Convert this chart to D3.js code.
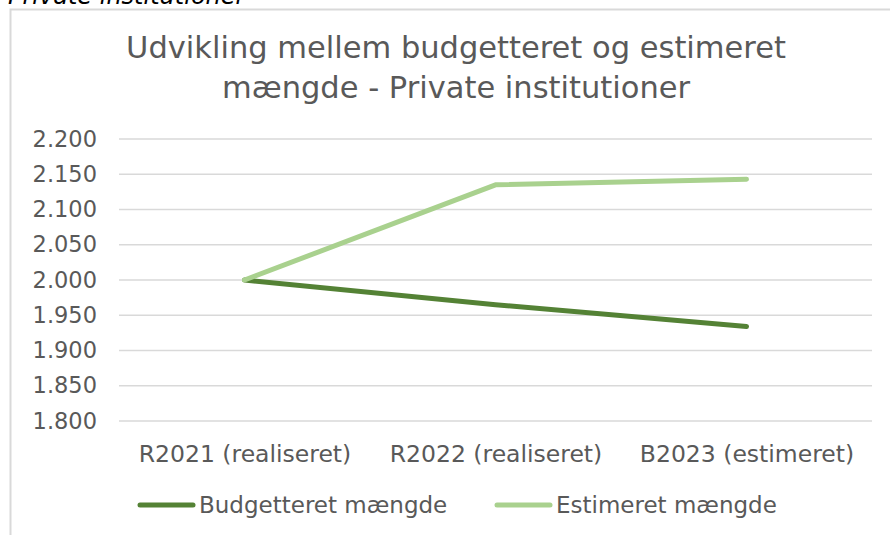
<!DOCTYPE html>
<html lang="da">
<head>
<meta charset="UTF-8">
<title>Udvikling mellem budgetteret og estimeret mængde</title>
<script src="https://d3js.org/d3.v7.min.js"></script>
<style>
  body { margin: 0; background: #fff; font-family: "DejaVu Sans", sans-serif; }
  svg text { fill: #595959; }
</style>
</head>
<body>
<div id="chart"></div>
<script>
// data
const categories = ["R2021 (realiseret)", "R2022 (realiseret)", "B2023 (estimeret)"];
const budgetteret = [2000, 1965, 1934];
const estimeret = [2000, 2135, 2143];
const yTicks = [1800, 1850, 1900, 1950, 2000, 2050, 2100, 2150, 2200];
const seriesNames = ["Budgetteret mængde", "Estimeret mængde"];
const colors = ["#548235", "#a9d18e"];

const W = 890, H = 535;
const plot = { left: 119, right: 872, top: 139, bottom: 421 };
const font = "'DejaVu Sans', sans-serif";

const svg = d3.select("#chart").append("svg")
  .attr("width", W).attr("height", H);

// afskåret overskrift over diagrammet
svg.append("text")
  .attr("x", 8).attr("y", 4)
  .style("font-style", "italic")
  .style("font-size", "24px")
  .style("fill", "#000")
  .text("Private institutioner");

// ramme
svg.append("rect")
  .attr("x", 10.5).attr("y", 9.5)
  .attr("width", W).attr("height", H)
  .attr("fill", "none")
  .attr("stroke", "#d9d9d9")
  .attr("stroke-width", 2);

// titel
const title = svg.append("text")
  .attr("text-anchor", "middle")
  .style("font-size", "30.5px");
title.append("tspan").attr("x", 456).attr("y", 58).text("Udvikling mellem budgetteret og estimeret");
title.append("tspan").attr("x", 456).attr("y", 98).text("mængde - Private institutioner");

const x = d3.scalePoint().domain(categories)
  .range([plot.left, plot.right]).padding(0.5);
const y = d3.scaleLinear().domain([1800, 2200])
  .range([plot.bottom, plot.top]);

// gitterlinjer
svg.append("g").selectAll("line").data(yTicks).join("line")
  .attr("x1", plot.left).attr("x2", plot.right)
  .attr("y1", d => y(d)).attr("y2", d => y(d))
  .attr("stroke", "#d9d9d9").attr("stroke-width", 1.5);

// y-akse
const fmt = d3.format(",.0f");
const yAxis = svg.append("g")
  .attr("transform", `translate(${plot.left - 22},0)`)
  .call(d3.axisLeft(y).tickValues(yTicks).tickSize(0).tickPadding(0)
    .tickFormat(d => fmt(d).replace(",", ".")));
yAxis.select(".domain").remove();
yAxis.selectAll("text")
  .style("font-size", "22.5px")
  .style("font-family", font)
  .attr("fill", "#595959");

// x-akse
const xAxis = svg.append("g")
  .attr("transform", `translate(0,${plot.bottom + 24})`)
  .call(d3.axisBottom(x).tickSize(0).tickPadding(0));
xAxis.select(".domain").remove();
xAxis.selectAll("text")
  .style("font-size", "23.5px")
  .style("font-family", font)
  .attr("fill", "#595959");

// linjer
const line = d3.line()
  .x((d, i) => x(categories[i]))
  .y(d => y(d));

[budgetteret, estimeret].forEach((vals, i) => {
  svg.append("path")
    .datum(vals)
    .attr("d", line)
    .attr("fill", "none")
    .attr("stroke", colors[i])
    .attr("stroke-width", 5)
    .attr("stroke-linecap", "round")
    .attr("stroke-linejoin", "round");
});

// forklaring
const legendX = [140, 497];
seriesNames.forEach((name, i) => {
  const g = svg.append("g").attr("transform", `translate(${legendX[i]},505)`);
  g.append("line")
    .attr("x1", 0).attr("x2", 53)
    .attr("stroke", colors[i])
    .attr("stroke-width", 5)
    .attr("stroke-linecap", "round");
  g.append("text")
    .attr("x", 59).attr("y", 8)
    .style("font-size", "23px")
    .text(name);
});
</script>
</body>
</html>
